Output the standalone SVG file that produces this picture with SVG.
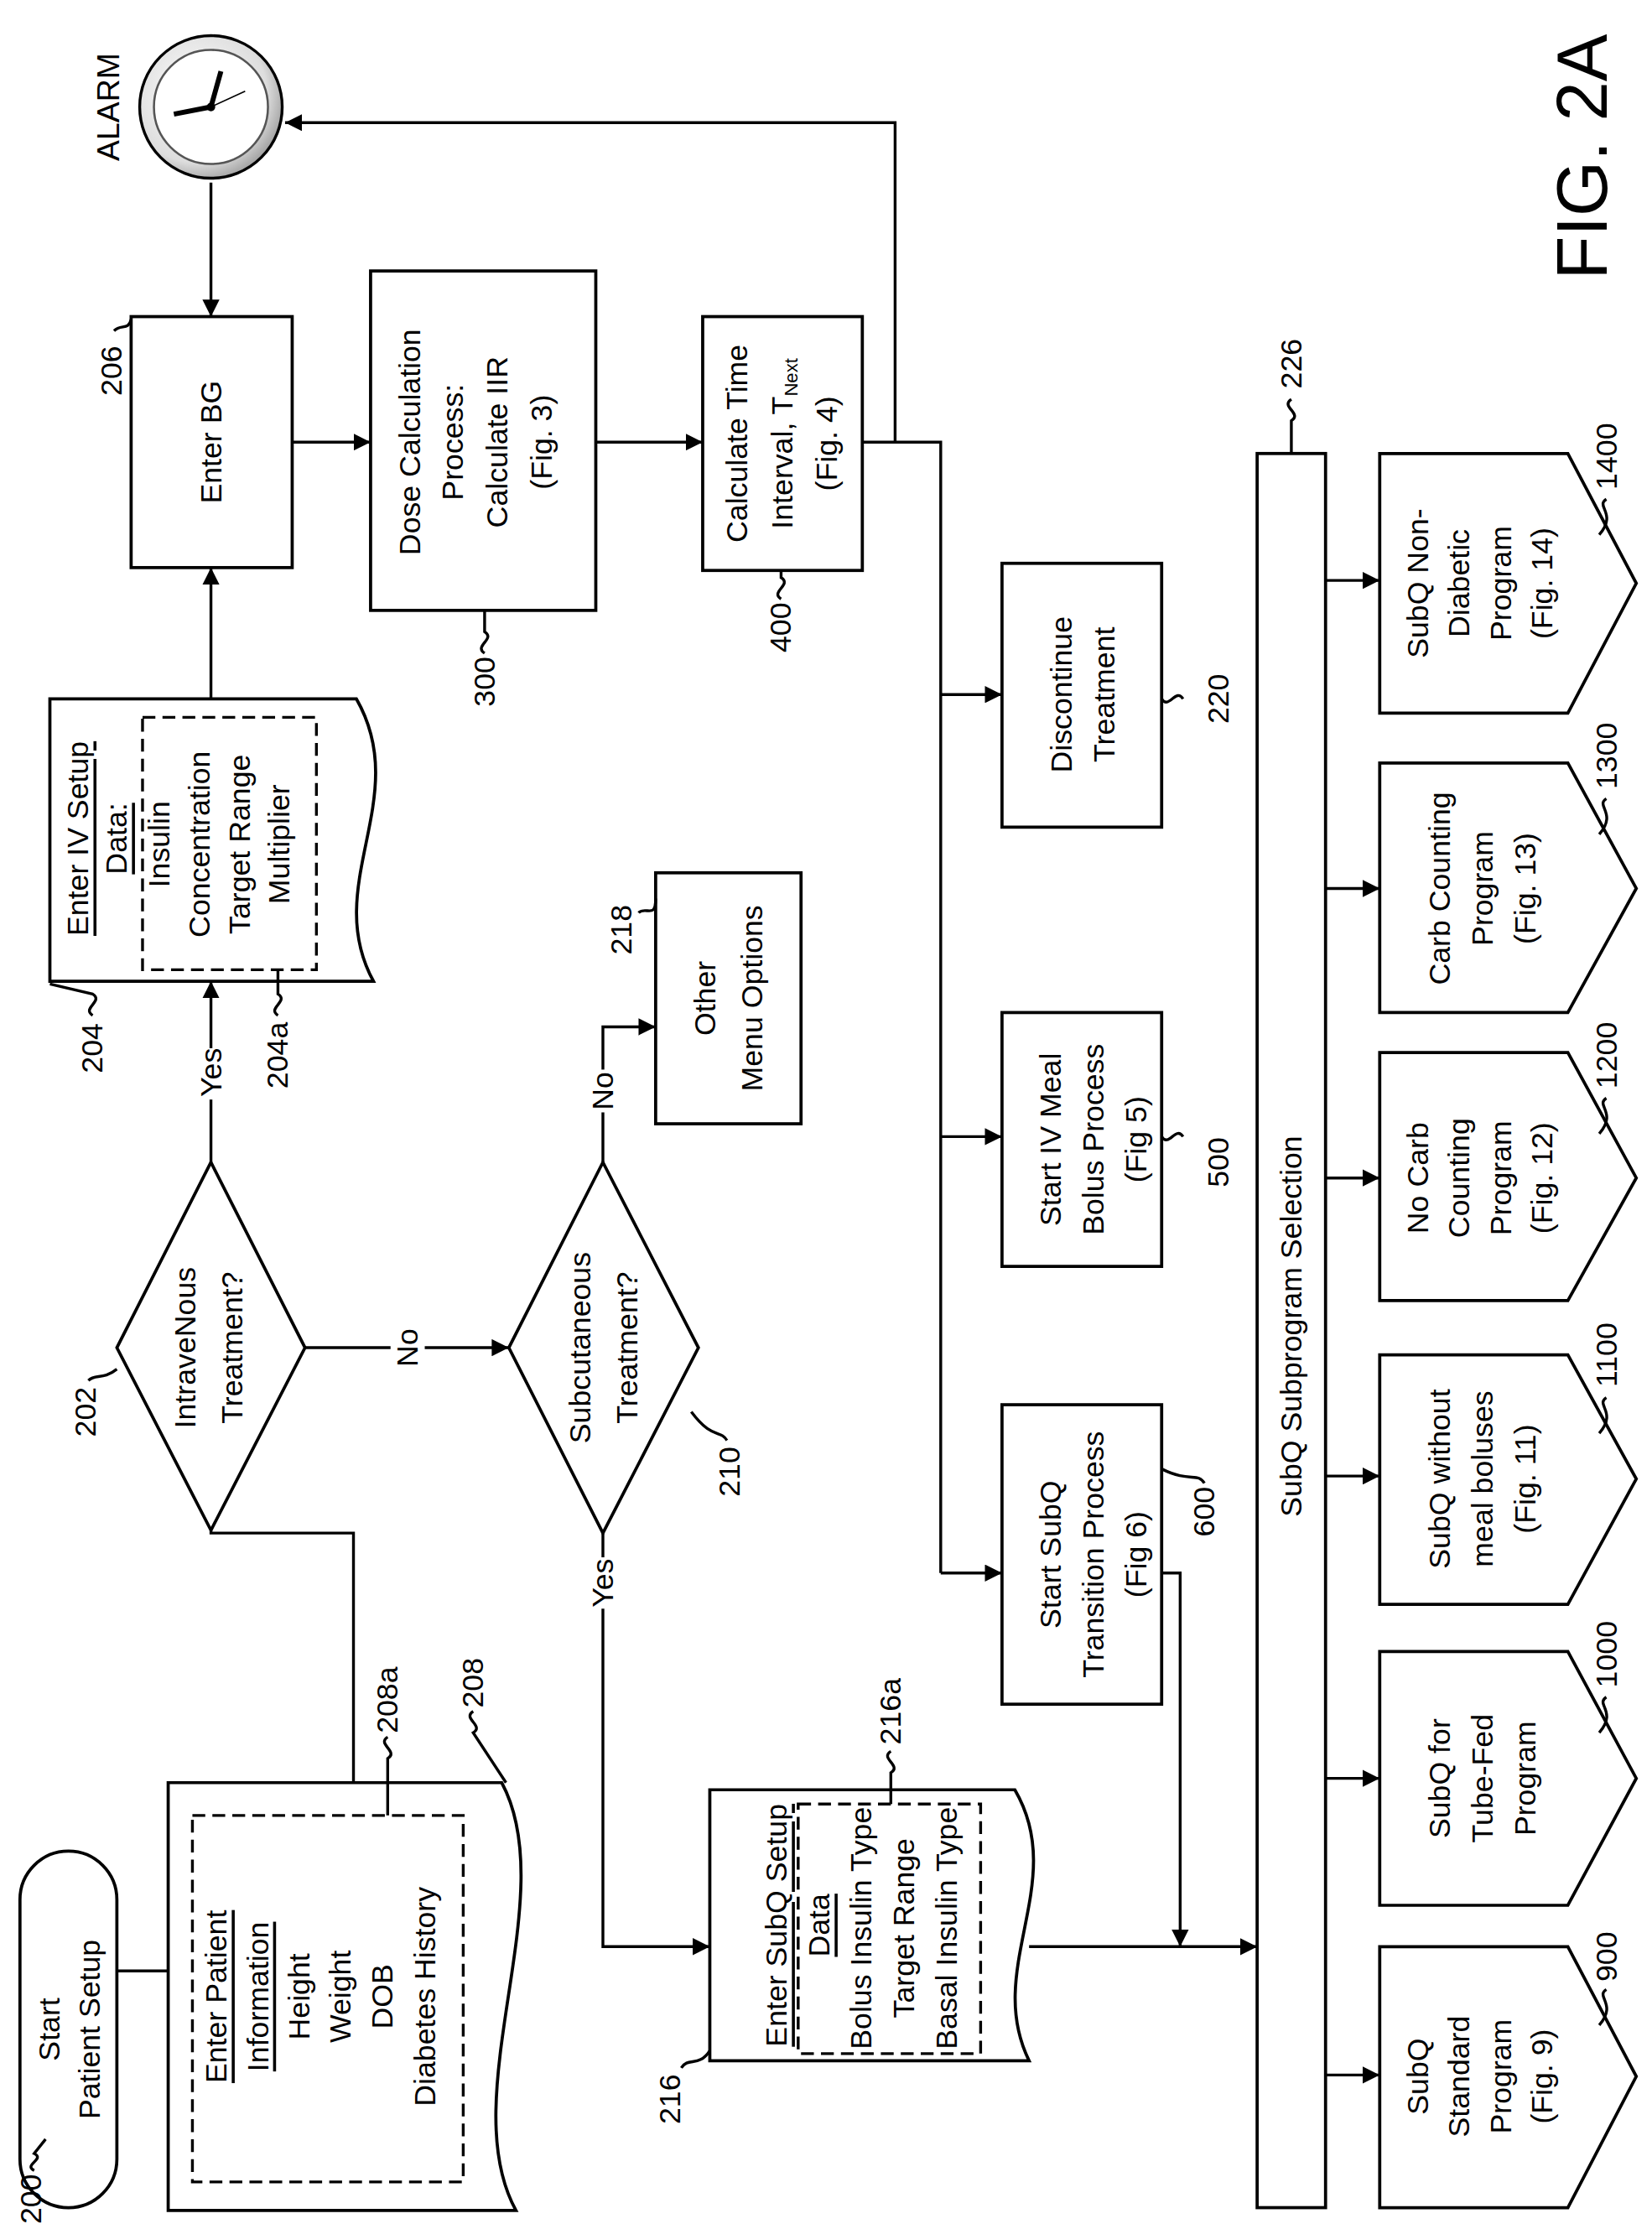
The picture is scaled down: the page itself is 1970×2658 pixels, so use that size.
<svg xmlns="http://www.w3.org/2000/svg" width="1970" height="2658" viewBox="0 0 1970 2658">
<style>
.b{fill:#fff;stroke:#000;stroke-width:2.2}
.d{fill:none;stroke:#000;stroke-width:2;stroke-dasharray:9 5}
.c{fill:none;stroke:#000;stroke-width:2}
text{font-family:"Liberation Sans",Arial,sans-serif;font-size:21px;fill:#000;text-anchor:middle;dominant-baseline:central}
.u{text-decoration:underline}
</style>
<defs>
<marker id="a" viewBox="0 0 10 10" refX="10" refY="5" markerWidth="12" markerHeight="12" markerUnits="userSpaceOnUse" orient="auto"><path d="M0,0L10,5L0,10z"/></marker>
<radialGradient id="g" cx="0.4" cy="0.4" r="0.7"><stop offset="0" stop-color="#fff"/><stop offset="0.7" stop-color="#ddd"/><stop offset="1" stop-color="#888"/></radialGradient>
</defs>
<rect width="1970" height="2658" fill="#fff"/>
<g transform="scale(1.6997,1.7006)">
<g id="connectors">
<path class="c" d="M82,1382H118"/>
<path class="c" d="M248,1250V1075H148V1073"/>
<path class="c" d="M148,815V688" marker-end="url(#a)"/>
<path class="c" d="M148,490V398" marker-end="url(#a)"/>
<path class="c" d="M148,128V222" marker-end="url(#a)"/>
<path class="c" d="M205,310H260" marker-end="url(#a)"/>
<path class="c" d="M418,310H493" marker-end="url(#a)"/>
<path class="c" d="M605,310H628V86H200" marker-end="url(#a)"/>
<path class="c" d="M628,310H660V1103"/>
<path class="c" d="M660,487H703" marker-end="url(#a)"/>
<path class="c" d="M660,797H703" marker-end="url(#a)"/>
<path class="c" d="M660,1103H703" marker-end="url(#a)"/>
<path class="c" d="M815,1103H828V1365" marker-end="url(#a)"/>
<path class="c" d="M214,945H357" marker-end="url(#a)"/>
<path class="c" d="M423,815V720H460" marker-end="url(#a)"/>
<path class="c" d="M423,1075V1365H498" marker-end="url(#a)"/>
<path class="c" d="M722,1365H882" marker-end="url(#a)"/>
<path class="c" d="M930,407H968" marker-end="url(#a)"/>
<path class="c" d="M930,623H968" marker-end="url(#a)"/>
<path class="c" d="M930,826H968" marker-end="url(#a)"/>
<path class="c" d="M930,1035H968" marker-end="url(#a)"/>
<path class="c" d="M930,1247H968" marker-end="url(#a)"/>
<path class="c" d="M930,1455H968" marker-end="url(#a)"/>
<rect x="274" y="932" width="24" height="26" fill="#fff"/><text transform="rotate(-90 286 945)" x="286" y="945">No</text>
<rect x="136" y="735" width="24" height="36" fill="#fff"/><text transform="rotate(-90 148 752)" x="148" y="752">Yes</text>
<rect x="411" y="750" width="24" height="30" fill="#fff"/><text transform="rotate(-90 423 765)" x="423" y="765">No</text>
<rect x="411" y="1092" width="24" height="36" fill="#fff"/><text transform="rotate(-90 423 1110)" x="423" y="1110">Yes</text>
</g>
<g id="n200"><rect class="b" x="14" y="1298" width="68" height="250" rx="34"/>
<text transform="rotate(-90 35 1423)" x="35" y="1423">Start</text><text transform="rotate(-90 63 1423)" x="63" y="1423">Patient Setup</text></g>
<g id="n208"><path class="b" d="M118,1250H352C395,1330 318,1470 362,1550H118Z"/><rect class="d" x="135" y="1273" width="190" height="257"/>
<text class="u" transform="rotate(-90 152 1400)" x="152" y="1400">Enter Patient</text>
<text class="u" transform="rotate(-90 181 1400)" x="181" y="1400">Information</text>
<text transform="rotate(-90 210 1400)" x="210" y="1400">Height</text>
<text transform="rotate(-90 239 1400)" x="239" y="1400">Weight</text>
<text transform="rotate(-90 268 1400)" x="268" y="1400">DOB</text>
<text transform="rotate(-90 298 1400)" x="298" y="1400">Diabetes History</text></g>
<g id="n202"><path class="b" d="M148,815L214,945L148,1073L82,945Z"/>
<text transform="rotate(-90 130 945)" x="130" y="945">IntraveNous</text><text transform="rotate(-90 163 945)" x="163" y="945">Treatment?</text></g>
<g id="n204"><path class="b" d="M35,490H250C290,560 225,620 262,688H35Z"/><rect class="d" x="100" y="503" width="122" height="177"/>
<text class="u" transform="rotate(-90 55 588)" x="55" y="588">Enter IV Setup</text>
<text class="u" transform="rotate(-90 82 588)" x="82" y="588">Data:</text>
<text transform="rotate(-90 112 592)" x="112" y="592">Insulin</text>
<text transform="rotate(-90 140 592)" x="140" y="592">Concentration</text>
<text transform="rotate(-90 168 592)" x="168" y="592">Target Range</text>
<text transform="rotate(-90 196 592)" x="196" y="592">Multiplier</text></g>
<g id="n206"><rect class="b" x="92" y="222" width="113" height="176"/><text transform="rotate(-90 148 310)" x="148" y="310">Enter BG</text></g>
<g id="alarm"><circle cx="148" cy="75" r="50" fill="url(#g)" stroke="#000" stroke-width="2"/><circle cx="148" cy="75" r="40" fill="#fff" stroke="#555" stroke-width="1.5"/>
<path d="M148,75L122,80M148,75L155,50" stroke="#000" stroke-width="3.5" fill="none"/><path d="M148,75L172,64" stroke="#000" stroke-width="1" fill="none"/><circle cx="148" cy="75" r="3"/>
<text transform="rotate(-90 76 75)" x="76" y="75" style="font-size:22px">ALARM</text></g>
<g id="n300"><rect class="b" x="260" y="190" width="158" height="238"/>
<text transform="rotate(-90 288 310)" x="288" y="310">Dose Calculation</text>
<text transform="rotate(-90 318 310)" x="318" y="310">Process:</text>
<text transform="rotate(-90 349 310)" x="349" y="310">Calculate IIR</text>
<text transform="rotate(-90 380 310)" x="380" y="310">(Fig. 3)</text></g>
<g id="n400"><rect class="b" x="493" y="222" width="112" height="178"/>
<text transform="rotate(-90 517 311)" x="517" y="311">Calculate Time</text>
<text transform="rotate(-90 549 311)" x="549" y="311">Interval, T<tspan style="font-size:13px" dy="6">Next</tspan></text>
<text transform="rotate(-90 580 311)" x="580" y="311">(Fig. 4)</text></g>
<g id="n220"><rect class="b" x="703" y="395" width="112" height="185"/>
<text transform="rotate(-90 745 487)" x="745" y="487">Discontinue</text><text transform="rotate(-90 775 487)" x="775" y="487">Treatment</text></g>
<g id="n500"><rect class="b" x="703" y="710" width="112" height="178"/>
<text transform="rotate(-90 737 799)" x="737" y="799">Start IV Meal</text><text transform="rotate(-90 767 799)" x="767" y="799">Bolus Process</text><text transform="rotate(-90 797 799)" x="797" y="799">(Fig 5)</text></g>
<g id="n600"><rect class="b" x="703" y="985" width="112" height="210"/>
<text transform="rotate(-90 737 1090)" x="737" y="1090">Start SubQ</text><text transform="rotate(-90 767 1090)" x="767" y="1090">Transition Process</text><text transform="rotate(-90 797 1090)" x="797" y="1090">(Fig 6)</text></g>
<g id="n210"><path class="b" d="M423,815L490,945L423,1075L357,945Z"/>
<text transform="rotate(-90 407 945)" x="407" y="945">Subcutaneous</text><text transform="rotate(-90 440 945)" x="440" y="945">Treatment?</text></g>
<g id="n218"><rect class="b" x="460" y="612" width="102" height="176"/>
<text transform="rotate(-90 495 700)" x="495" y="700">Other</text><text transform="rotate(-90 528 700)" x="528" y="700">Menu Options</text></g>
<g id="n216"><path class="b" d="M498,1255H712C750,1320 690,1380 722,1445H498Z"/><rect class="d" x="560" y="1265" width="128" height="175"/>
<text class="u" transform="rotate(-90 545 1350)" x="545" y="1350">Enter SubQ Setup</text>
<text class="u" transform="rotate(-90 575 1350)" x="575" y="1350">Data</text>
<text transform="rotate(-90 604 1352)" x="604" y="1352">Bolus Insulin Type</text>
<text transform="rotate(-90 634 1352)" x="634" y="1352">Target Range</text>
<text transform="rotate(-90 664 1352)" x="664" y="1352">Basal Insulin Type</text></g>
<g id="n226"><rect class="b" x="882" y="318" width="48" height="1230"/><text transform="rotate(-90 906 930)" x="906" y="930">SubQ Subprogram Selection</text></g>
<g id="n1400"><path class="b" d="M968,318H1100L1148,409L1100,500H968Z"/>
<text transform="rotate(-90 995 409)" x="995" y="409">SubQ Non-</text><text transform="rotate(-90 1024 409)" x="1024" y="409">Diabetic</text><text transform="rotate(-90 1053 409)" x="1053" y="409">Program</text><text transform="rotate(-90 1082 409)" x="1082" y="409">(Fig. 14)</text></g>
<g id="n1300"><path class="b" d="M968,535H1100L1148,623L1100,710H968Z"/>
<text transform="rotate(-90 1010 623)" x="1010" y="623">Carb Counting</text><text transform="rotate(-90 1040 623)" x="1040" y="623">Program</text><text transform="rotate(-90 1070 623)" x="1070" y="623">(Fig. 13)</text></g>
<g id="n1200"><path class="b" d="M968,738H1100L1148,826L1100,912H968Z"/>
<text transform="rotate(-90 995 826)" x="995" y="826">No Carb</text><text transform="rotate(-90 1024 826)" x="1024" y="826">Counting</text><text transform="rotate(-90 1053 826)" x="1053" y="826">Program</text><text transform="rotate(-90 1082 826)" x="1082" y="826">(Fig. 12)</text></g>
<g id="n1100"><path class="b" d="M968,950H1100L1148,1037L1100,1125H968Z"/>
<text transform="rotate(-90 1010 1037)" x="1010" y="1037">SubQ without</text><text transform="rotate(-90 1040 1037)" x="1040" y="1037">meal boluses</text><text transform="rotate(-90 1070 1037)" x="1070" y="1037">(Fig. 11)</text></g>
<g id="n1000"><path class="b" d="M968,1158H1100L1148,1247L1100,1336H968Z"/>
<text transform="rotate(-90 1010 1247)" x="1010" y="1247">SubQ for</text><text transform="rotate(-90 1040 1247)" x="1040" y="1247">Tube-Fed</text><text transform="rotate(-90 1070 1247)" x="1070" y="1247">Program</text></g>
<g id="n900"><path class="b" d="M968,1365H1100L1148,1456L1100,1548H968Z"/>
<text transform="rotate(-90 995 1456)" x="995" y="1456">SubQ</text><text transform="rotate(-90 1024 1456)" x="1024" y="1456">Standard</text><text transform="rotate(-90 1053 1456)" x="1053" y="1456">Program</text><text transform="rotate(-90 1082 1456)" x="1082" y="1456">(Fig. 9)</text></g>
<g id="labels">
<text transform="rotate(-90 22 1542)" x="22" y="1542">200</text><path class="c" d="M24,1522c-8,-4 8,-8 0,-12L32,1500"/>
<text transform="rotate(-90 78 260)" x="78" y="260">206</text><path class="c" d="M80,232c5,-5 10,0 12,-8"/>
<text transform="rotate(-90 340 478)" x="340" y="478">300</text><path class="c" d="M340,458c-8,-5 8,-10 0,-15V428"/>
<text transform="rotate(-90 548 440)" x="548" y="440">400</text><path class="c" d="M548,420c-8,-5 8,-10 0,-15V400"/>
<text transform="rotate(-90 65 735)" x="65" y="735">204</text><path class="c" d="M65,712c-8,-5 8,-10 0,-15L35,690"/>
<text transform="rotate(-90 195 740)" x="195" y="740">204a</text><path class="c" d="M195,712c-8,-5 8,-10 0,-15V680"/>
<text transform="rotate(-90 60 990)" x="60" y="990">202</text><path class="c" d="M62,968c5,-5 10,0 20,-8"/>
<text transform="rotate(-90 512 1032)" x="512" y="1032">210</text><path class="c" d="M510,1010c-5,-8 -10,0 -25,-20"/>
<text transform="rotate(-90 272 1192)" x="272" y="1192">208a</text><path class="c" d="M272,1218c-8,5 8,10 0,15V1273"/>
<text transform="rotate(-90 332 1180)" x="332" y="1180">208</text><path class="c" d="M332,1200c-8,5 8,10 0,15L355,1250"/>
<text transform="rotate(-90 470 1472)" x="470" y="1472">216</text><path class="c" d="M478,1450c5,-8 12,0 20,-12"/>
<text transform="rotate(-90 625 1200)" x="625" y="1200">216a</text><path class="c" d="M625,1228c-8,5 8,10 0,15V1265"/>
<text transform="rotate(-90 436 652)" x="436" y="652">218</text><path class="c" d="M448,640c5,-5 12,5 12,-10"/>
<text transform="rotate(-90 855 490)" x="855" y="490">220</text><path class="c" d="M830,490c-5,-8 -10,8 -15,0"/>
<text transform="rotate(-90 855 815)" x="855" y="815">500</text><path class="c" d="M830,797c-5,-8 -10,8 -15,0"/>
<text transform="rotate(-90 845 1060)" x="845" y="1060">600</text><path class="c" d="M845,1040c-5,-8 -10,0 -30,-10"/>
<text transform="rotate(-90 906 255)" x="906" y="255">226</text><path class="c" d="M906,280c-8,5 8,10 0,15V318"/>
<text transform="rotate(-90 1127 320)" x="1127" y="320">1400</text><path class="c" d="M1127,350c-8,5 8,10 -5,25"/>
<text transform="rotate(-90 1127 530)" x="1127" y="530">1300</text><path class="c" d="M1127,560c-8,5 8,10 -5,25"/>
<text transform="rotate(-90 1127 740)" x="1127" y="740">1200</text><path class="c" d="M1127,770c-8,5 8,10 -5,25"/>
<text transform="rotate(-90 1127 950)" x="1127" y="950">1100</text><path class="c" d="M1127,980c-8,5 8,10 -5,25"/>
<text transform="rotate(-90 1127 1160)" x="1127" y="1160">1000</text><path class="c" d="M1127,1190c-8,5 8,10 -5,25"/>
<text transform="rotate(-90 1127 1372)" x="1127" y="1372">900</text><path class="c" d="M1127,1395c-8,5 8,10 -5,25"/>
<text transform="rotate(-90 1110 110)" x="1110" y="110" style="font-size:50px">FIG. 2A</text>
</g>
</g>
</svg>
